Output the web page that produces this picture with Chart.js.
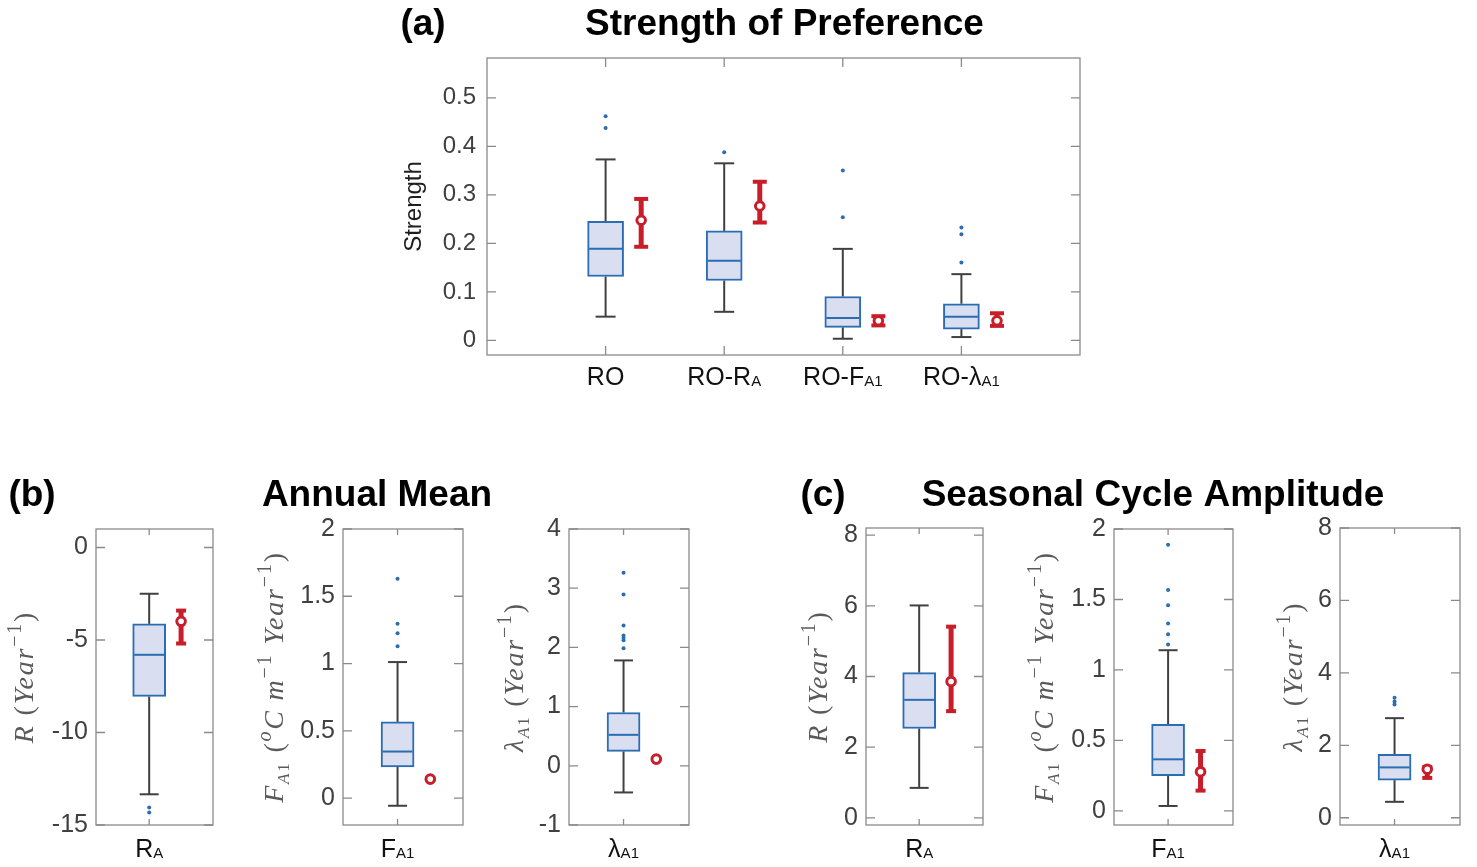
<!DOCTYPE html>
<html><head><meta charset="utf-8">
<script src="https://cdn.jsdelivr.net/npm/chart.js@4"></script>
<style>
html,body{margin:0;padding:0;background:#fff;width:1477px;height:867px;overflow:hidden}
canvas{position:absolute;left:0;top:0}
</style></head><body>
<canvas id="ca" width="1477" height="867"></canvas>
<canvas id="cb1" width="1477" height="867"></canvas>
<canvas id="cb2" width="1477" height="867"></canvas>
<canvas id="cb3" width="1477" height="867"></canvas>
<canvas id="cc1" width="1477" height="867"></canvas>
<canvas id="cc2" width="1477" height="867"></canvas>
<canvas id="cc3" width="1477" height="867"></canvas>
<script>
// ---------------- DATA ----------------
// Panel (a): Strength of Preference
const aCats   = ['RO', 'RO-R|A', 'RO-F|A1', 'RO-λ|A1'];
const aPos    = [1, 2, 3, 4];
const aLo     = [0.049, 0.059, 0.0035, 0.007];
const aQ1     = [0.1317, 0.1235, 0.027, 0.0234];
const aMed    = [0.1887, 0.164, 0.046, 0.0488];
const aQ3     = [0.2456, 0.2257, 0.0905, 0.0755];
const aHi     = [0.373, 0.365, 0.1887, 0.1366];
const aOut    = [[0.462, 0.438], [0.388], [0.35, 0.254], [0.2325, 0.219, 0.1605]];
const aRef    = [0.2477, 0.277, 0.0405, 0.0405];
const aRefLo  = [0.193, 0.243, 0.031, 0.030];
const aRefHi  = [0.2916, 0.327, 0.050, 0.056];
const aTicks  = [0, 0.1, 0.2, 0.3, 0.4, 0.5];
const aYMin = -0.03, aYMax = 0.582, aXMin = 0, aXMax = 5;

// Panels (b1..b3) Annual Mean, (c1..c3) Seasonal Cycle Amplitude
const sCats   = ['R|A', 'F|A1', 'λ|A1', 'R|A', 'F|A1', 'λ|A1'];
const sLo     = [-13.34, -0.057, -0.45, 0.85, 0.035, 0.44];
const sQ1     = [-8.05, 0.232, 0.243, 2.53, 0.25, 1.04];
const sMed    = [-5.80, 0.346, 0.523, 3.34, 0.366, 1.39];
const sQ3     = [-4.13, 0.566, 0.90, 4.11, 0.614, 1.75];
const sHi     = [-2.50, 1.011, 1.78, 6.01, 1.14, 2.75];
const sOut    = [[-14.05, -14.32], [1.63, 1.296, 1.226, 1.128], [3.26, 2.895, 2.37, 2.2, 2.16, 2.12, 1.985], [], [1.889, 1.567, 1.459, 1.329, 1.254, 1.18], [3.31, 3.21, 3.13]];
const sRef    = [-3.99, 0.141, 0.113, 3.86, 0.278, 1.34];
const sRefLo  = [-5.19, 0.134, 0.105, 3.02, 0.144, 1.10];
const sRefHi  = [-3.41, 0.148, 0.12, 5.41, 0.425, 1.40];
const sTicks  = [[-15, -10, -5, 0], [0, 0.5, 1, 1.5, 2], [-1, 0, 1, 2, 3, 4], [0, 2, 4, 6, 8], [0, 0.5, 1, 1.5, 2], [0, 2, 4, 6, 8]];
const sYMin   = [-15, -0.2, -1, -0.2, -0.1, -0.2];
const sYMax   = [1, 2, 4, 8.2, 2, 8];
const sXMin = 0.5, sXMax = 1.6, sPos = 1;
const refOffset = 0.3;

// Text
const titles = ['(a)', 'Strength of Preference', '(b)', 'Annual Mean', '(c)', 'Seasonal Cycle Amplitude'];
const aYLabel = [['Strength', 'n']];
const labR   = [['R', 'i'], [' (', 'n'], ['Year', 'i'], ['−1', 'sup'], [')', 'n']];
const labF   = [['F', 'i'], ['A', 'subi'], ['1', 'sub'], [' (', 'n'], ['o', 'supi'], ['C', 'i'], [' m', 'i'], ['−1', 'sup'], [' Year', 'i'], ['−1', 'sup'], [')', 'n']];
const labL   = [['λ', 'i'], ['A', 'subi'], ['1', 'sub'], [' (', 'n'], ['Year', 'i'], ['−1', 'sup'], [')', 'n']];
const sYLabels = [labR, labF, labL, labR, labF, labL];

// ---------------- LAYOUT / STYLE ----------------
const W = 1477, H = 867;
const BLUE = '#2a6db3', FILL = '#d9dff1', WHISK = '#404040', RED = '#c81e2a', AXC = '#8a8a8a';
const SANS = '"Liberation Sans", Arial, Helvetica, sans-serif';
const SERIF = '"Liberation Serif", "Times New Roman", serif';
const titlePos = [[423, 35], [784.5, 35], [32, 506], [377, 506], [823, 506], [1153, 506]];
const aStyle = {rect: [487, 58, 1080, 355], axisW: 90, tickFont: 24, boxW: 36, medR: 16.5, capR: 10, refCapR: 7, tickY: 9, tickX: 9, pad: 11, catBase: 385, ylabX: 421, ylabSize: 24, ylabFamily: SANS, ylabColor: '#1e1e1e', ylabSpacing: 0};
const sRects = [[96, 529, 213, 825], [343, 529, 463, 825], [569, 529, 689, 825], [866, 528, 983, 825], [1114, 529, 1233, 825], [1340, 528, 1460, 825]];
const sYlabX = [33, 283, 523, 827, 1053, 1302];
const sStyleBase = {axisW: 60, tickFont: 25, boxW: 33, medR: 15, capR: 9.5, refCapR: 5, tickY: 9, tickX: 6, pad: 8, catBase: 857, ylabSize: 28, ylabFamily: SERIF, ylabColor: '#5a5a5a', ylabSpacing: 1.8};

// ---------------- PLUGINS ----------------
function drawRich(ctx, segs, size, family, spacing, x, y, align) {
  const fontOf = k => {
    if (k === 'n') return `${size}px ${family}`;
    if (k === 'i') return `italic ${size}px ${family}`;
    if (k === 'sup') return `${Math.round(size * 0.7)}px ${family}`;
    if (k === 'supi') return `italic ${Math.round(size * 0.7)}px ${family}`;
    if (k === 'sub') return `${Math.round(size * 0.6)}px ${family}`;
    if (k === 'subi') return `italic ${Math.round(size * 0.6)}px ${family}`;
    return `${size}px ${family}`;
  };
  const dyOf = k => (k === 'sup' || k === 'supi') ? -0.42 * size : (k === 'sub' || k === 'subi') ? 0.2 * size : 0;
  try { ctx.letterSpacing = spacing + 'px'; } catch (e) {}
  let total = 0;
  const widths = segs.map(([t, k]) => { ctx.font = fontOf(k); const w = ctx.measureText(t).width; total += w; return w; });
  let cx = align === 'center' ? x - total / 2 : x;
  ctx.textAlign = 'left';
  ctx.textBaseline = 'alphabetic';
  segs.forEach(([t, k], i) => { ctx.font = fontOf(k); ctx.fillText(t, cx, y + dyOf(k)); cx += widths[i]; });
  try { ctx.letterSpacing = '0px'; } catch (e) {}
}

const matlabAxes = {
  id: 'matlabAxes',
  afterDraw(chart, args, o) {
    const {ctx, chartArea: ca, scales} = chart;
    ctx.save();
    // inside tick marks on all four sides
    ctx.strokeStyle = AXC; ctx.lineWidth = 1.3;
    ctx.beginPath();
    o.yTicks.forEach(v => {
      const y = scales.y.getPixelForValue(v);
      ctx.moveTo(ca.left, y); ctx.lineTo(ca.left + o.tickY, y);
      ctx.moveTo(ca.right, y); ctx.lineTo(ca.right - o.tickY, y);
    });
    o.xTicks.forEach(v => {
      const x = scales.x.getPixelForValue(v);
      ctx.moveTo(x, ca.top); ctx.lineTo(x, ca.top + o.tickX);
      ctx.moveTo(x, ca.bottom); ctx.lineTo(x, ca.bottom - o.tickX);
    });
    ctx.stroke();
    ctx.strokeRect(ca.left, ca.top, ca.right - ca.left, ca.bottom - ca.top);
    // category labels with subscripts
    ctx.fillStyle = '#111';
    o.cats.forEach((c, i) => {
      const [main, sub] = c.split('|');
      const x = scales.x.getPixelForValue(o.xTicks[i]);
      ctx.font = `25px ${SANS}`; const wm = ctx.measureText(main).width;
      let ws = 0;
      if (sub) { ctx.font = `15px ${SANS}`; ws = ctx.measureText(sub).width; }
      const x0 = x - (wm + ws) / 2;
      ctx.textAlign = 'left'; ctx.textBaseline = 'alphabetic';
      ctx.font = `25px ${SANS}`; ctx.fillText(main, x0, o.catBase);
      if (sub) { ctx.font = `15px ${SANS}`; ctx.fillText(sub, x0 + wm, o.catBase + 1); }
    });
    // rotated y-axis label
    ctx.fillStyle = o.ylabColor;
    ctx.translate(o.ylabX, (ca.top + ca.bottom) / 2);
    ctx.rotate(-Math.PI / 2);
    drawRich(ctx, o.ylab, o.ylabSize, o.ylabFamily, o.ylabSpacing, 0, 0, 'center');
    ctx.restore();
  }
};

const titlePlugin = {
  id: 'figTitles',
  afterDraw(chart) {
    const ctx = chart.ctx;
    ctx.save();
    ctx.fillStyle = '#000';
    ctx.font = `bold 37px ${SANS}`;
    ctx.textAlign = 'center'; ctx.textBaseline = 'alphabetic';
    titles.forEach((t, i) => ctx.fillText(t, titlePos[i][0], titlePos[i][1]));
    ctx.restore();
  }
};

// ---------------- BUILD ----------------
function buildDatasets(pos, lo, q1, med, q3, hi, out, ref, refLo, refHi, st) {
  const ds = [];
  ds.push({type: 'bar', data: pos.map((p, i) => ({x: p, y: [q1[i], q3[i]]})), backgroundColor: FILL, borderColor: BLUE, borderWidth: 2, borderSkipped: false, barThickness: st.boxW, order: 6});
  pos.forEach((p, i) => {
    ds.push({type: 'line', data: [{x: p, y: q3[i]}, {x: p, y: hi[i]}], borderColor: WHISK, borderWidth: 2, pointRadius: 0, fill: false, order: 7});
    ds.push({type: 'line', data: [{x: p, y: lo[i]}, {x: p, y: q1[i]}], borderColor: WHISK, borderWidth: 2, pointRadius: 0, fill: false, order: 7});
  });
  ds.push({type: 'scatter', data: pos.flatMap((p, i) => [{x: p, y: lo[i]}, {x: p, y: hi[i]}]), pointStyle: 'line', pointRadius: st.capR, pointBorderColor: WHISK, pointBorderWidth: 2, order: 5});
  ds.push({type: 'scatter', data: pos.map((p, i) => ({x: p, y: med[i]})), pointStyle: 'line', pointRadius: st.medR, pointBorderColor: BLUE, pointBorderWidth: 2, order: 4});
  ds.push({type: 'scatter', data: pos.flatMap((p, i) => out[i].map(v => ({x: p, y: v}))), pointRadius: 2, pointBackgroundColor: BLUE, pointBorderWidth: 0, order: 3});
  pos.forEach((p, i) => {
    ds.push({type: 'line', data: [{x: p + refOffset, y: refLo[i]}, {x: p + refOffset, y: refHi[i]}], borderColor: RED, borderWidth: 5, borderCapStyle: 'butt', pointRadius: 0, fill: false, order: 2});
  });
  ds.push({type: 'scatter', data: pos.flatMap((p, i) => [{x: p + refOffset, y: refLo[i]}, {x: p + refOffset, y: refHi[i]}]), pointStyle: 'line', pointRadius: st.refCapR, pointBorderColor: RED, pointBorderWidth: 4, order: 1});
  ds.push({type: 'scatter', data: pos.map((p, i) => ({x: p + refOffset, y: ref[i]})), pointRadius: 4.3, pointBackgroundColor: '#fff', pointBorderColor: RED, pointBorderWidth: 3, order: 0});
  return ds;
}

function makeChart(id, datasets, st, xMin, xMax, yMin, yMax, yTicks, xTicks, cats, ylab, withTitles) {
  const r = st.rect;
  return new Chart(document.getElementById(id), {
    type: 'scatter',
    data: {datasets},
    plugins: withTitles ? [matlabAxes, titlePlugin] : [matlabAxes],
    options: {
      responsive: false, animation: false, events: [],
      layout: {padding: {left: r[0] - st.axisW, top: r[1], right: W - r[2], bottom: H - r[3]}},
      plugins: {
        legend: {display: false}, tooltip: {enabled: false},
        matlabAxes: {yTicks, xTicks, cats, ylab, tickY: st.tickY, tickX: st.tickX, catBase: st.catBase, ylabX: st.ylabX, ylabSize: st.ylabSize, ylabFamily: st.ylabFamily, ylabColor: st.ylabColor, ylabSpacing: st.ylabSpacing}
      },
      scales: {
        x: {type: 'linear', display: false, min: xMin, max: xMax, offset: false},
        y: {
          type: 'linear', min: yMin, max: yMax,
          afterFit: s => { s.width = st.axisW; },
          afterBuildTicks: s => { s.ticks = yTicks.map(v => ({value: v})); },
          grid: {display: false, drawTicks: false}, border: {display: false},
          ticks: {autoSkip: false, padding: st.pad, color: '#404040', font: {family: SANS, size: st.tickFont}, callback: v => String(v)}
        }
      }
    }
  });
}

makeChart('ca', buildDatasets(aPos, aLo, aQ1, aMed, aQ3, aHi, aOut, aRef, aRefLo, aRefHi, aStyle), aStyle, aXMin, aXMax, aYMin, aYMax, aTicks, aPos, aCats, aYLabel, true);

['cb1', 'cb2', 'cb3', 'cc1', 'cc2', 'cc3'].forEach((id, k) => {
  const st = Object.assign({}, sStyleBase, {rect: sRects[k], ylabX: sYlabX[k]});
  const ds = buildDatasets([sPos], [sLo[k]], [sQ1[k]], [sMed[k]], [sQ3[k]], [sHi[k]], [sOut[k]], [sRef[k]], [sRefLo[k]], [sRefHi[k]], st);
  makeChart(id, ds, st, sXMin, sXMax, sYMin[k], sYMax[k], sTicks[k], [sPos], [sCats[k]], sYLabels[k], false);
});
</script>
</body></html>
